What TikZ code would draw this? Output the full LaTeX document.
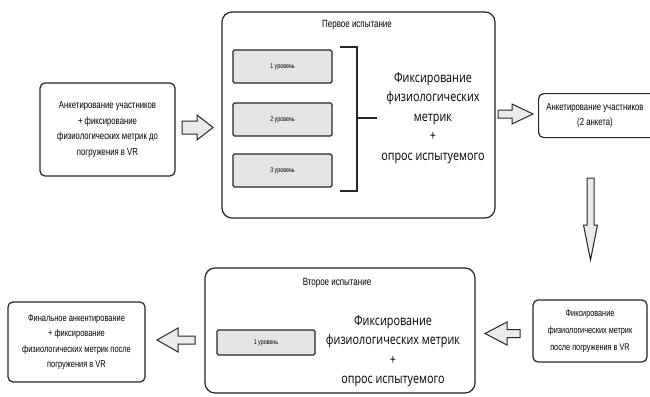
\documentclass[tikz,border=0pt]{standalone}
\usepackage{fontspec}
\setmainfont[FakeStretch=0.76]{Liberation Sans}
\newfontfamily\bigfont[FakeStretch=0.8]{Open Sans}
\begin{document}
\begin{tikzpicture}[x=1pt,y=-1pt,
  edge/.style={draw=black!85, line width=1.2pt},
  box/.style={edge, rounded corners=5pt, fill=white, align=center, inner sep=0pt},
  bigbox/.style={edge, rounded corners=10pt, fill=white, inner sep=0pt},
  level/.style={draw=black!85, line width=1.1pt, rounded corners=1.5pt, fill=black!10, inner sep=0pt,
    minimum width=99, minimum height=33, font=\fontsize{7}{8}\selectfont},
  blockarrow/.style={draw=black!85, line width=1pt, fill=black!8, line join=miter},
  txt/.style={font=\fontsize{10.2}{15.5}\selectfont, align=center},
  bigtxt/.style={font=\bigfont\fontsize{13.5}{19.5}\selectfont, align=center}]
\useasboundingbox (0,0) rectangle (650,396);
% left start box
\node[box, minimum width=135, minimum height=93, txt] (start) at (107.5,129.5)
  {Анкетирование участников\\+ фиксирование\\физиологических метрик до\\погружения в VR};
% first trial
\node[bigbox, minimum width=273, minimum height=206] (trial1) at (358.5,115) {};
\node[font=\fontsize{10.5}{12}\selectfont] (t1title) at (357,25) {Первое испытание};
\node[level] (l1) at (282.5,66.5) {1 уровень};
\node[level] (l2) at (282.5,119.5) {2 уровень};
\node[level] (l3) at (282.5,170.5) {3 уровень};
\draw[edge, line width=1.3pt] (340,47) -- (357,47) -- (357,191) -- (340,191);
\draw[edge, line width=1.3pt] (357,118) -- (377,118);
\node[bigtxt] (m1) at (433,118) {Фиксирование\\физиологических\\метрик\\+\\опрос испытуемого};
% second questionnaire
\node[box, minimum width=125, minimum height=44, anchor=north west] (q2) at (538,93) {};
\node[txt] (q2t) at (595,115.5) {\hspace*{0pt}Анкетирование участников\\(2 анкета)};
% after VR
\node[box, minimum width=114, minimum height=62, txt, font=\fontsize{9.6}{17}\selectfont] (after) at (590,331)
  {Фиксирование\\физиологических метрик\\после погружения в VR};
% second trial
\node[bigbox, minimum width=270, minimum height=125] (trial2) at (340,330.5) {};
\node[font=\fontsize{10.5}{12}\selectfont] (t2title) at (337,283) {Второе испытание};
\node[level, minimum width=98, minimum height=25] (l21) at (266,342.5) {1 уровень};
\node[bigtxt] (m2) at (393,351) {Фиксирование\\физиологических метрик\\+\\опрос испытуемого};
% final
\node[box, minimum width=137, minimum height=80, txt, font=\fontsize{9.8}{15.5}\selectfont] (final) at (76.5,342)
  {Финальное анкентирование\\+ фиксирование\\физиологических метрик после\\погружения в VR};
% block arrows
\draw[blockarrow] (182,121) -- (197,121) -- (197,115) -- (213,127.5) -- (197,140) -- (197,134) -- (182,134) -- cycle;
\draw[blockarrow] (498,110) -- (512,110) -- (512,104) -- (533,114) -- (512,124) -- (512,118) -- (498,118) -- cycle;
\draw[blockarrow] (587,178) -- (594,178) -- (594,225) -- (597.5,225) -- (590.5,260) -- (583.5,225) -- (587,225) -- cycle;
\draw[blockarrow] (520,329.5) -- (507,329.5) -- (507,322) -- (485,333.5) -- (507,345) -- (507,337.5) -- (520,337.5) -- cycle;
\draw[blockarrow] (195,336) -- (178,336) -- (178,328) -- (157,340) -- (178,352) -- (178,344) -- (195,344) -- cycle;
\end{tikzpicture}
\end{document}
